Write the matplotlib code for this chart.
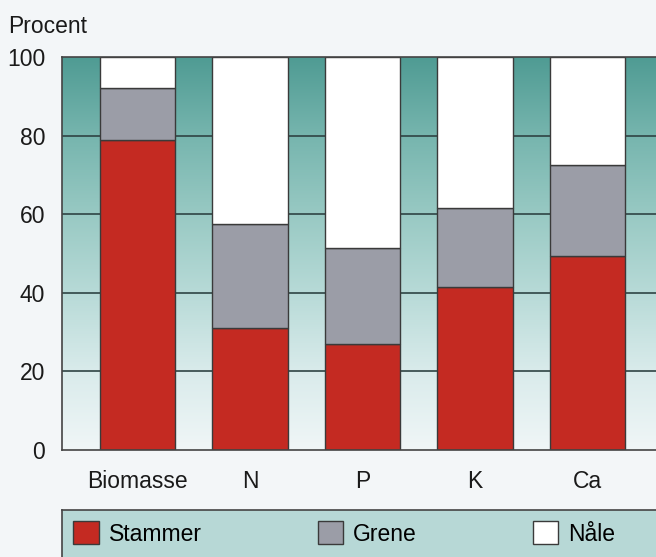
import numpy as np
import matplotlib.pyplot as plt
from matplotlib.colors import LinearSegmentedColormap

plt.rcParams['font.family'] = ['Liberation Sans', 'DejaVu Sans']

# data (percent of total)
categories = ["Biomasse", "N", "P", "K", "Ca"]
stammer = [79, 31, 27, 41.5, 49.5]
grene = [13, 26.5, 24.5, 20, 23]
naale = [8, 42.5, 48.5, 38.5, 27.5]
yticks = [0, 20, 40, 60, 80, 100]

fig = plt.figure(figsize=(6.56, 5.57), dpi=100)
fig.patch.set_facecolor("#f3f6f8")

ax = fig.add_axes([0.0945, 0.192, 0.9055, 0.7056])
x = np.arange(len(categories))
xlim = (-0.671, 4.609)

# teal gradient background
bg = LinearSegmentedColormap.from_list(
    "bg", ["#f0f6f7", "#d9ebeb", "#b7dad7", "#98c9c3", "#76b5ae", "#4f9b93"])
grad = np.linspace(0, 1, 256).reshape(-1, 1)
ax.imshow(grad, cmap=bg, origin="lower", aspect="auto",
          extent=[xlim[0], xlim[1], 0, 100], zorder=0)

for y in [20, 40, 60, 80]:
    ax.axhline(y, color="#2f4444", lw=1.2, zorder=1)

w = 0.667
edge = dict(edgecolor="#3a3a3a", linewidth=1.0, zorder=2)
b1 = ax.bar(x, stammer, w, color="#c42a22", label="Stammer", **edge)
b2 = ax.bar(x, grene, w, bottom=stammer, color="#9b9da7", label="Grene", **edge)
b3 = ax.bar(x, naale, w, bottom=np.add(stammer, grene), color="white",
            label="Nåle", **edge)

ax.set_xlim(*xlim)
ax.set_ylim(0, 100)
ax.set_yticks(yticks)
ax.set_xticks(x)
ax.set_xticklabels(categories)
ax.tick_params(axis="both", length=0, labelsize=16.5, colors="#1a1a1a")
ax.tick_params(axis="y", pad=12)
ax.tick_params(axis="x", pad=14)
for s in ["left", "top", "bottom"]:
    ax.spines[s].set_color("#444444")
    ax.spines[s].set_linewidth(1.2)
ax.spines["right"].set_visible(False)

fig.text(0.012, 0.952, "Procent", fontsize=16.5, color="#1a1a1a", va="center")

# legend strip
lax = fig.add_axes([0.0945, 0.0, 0.9055, 0.0844])
lax.set_facecolor("#b7d8d6")
lax.set_xticks([])
lax.set_yticks([])
for s in ["right", "bottom"]:
    lax.spines[s].set_visible(False)
for s in ["left", "top"]:
    lax.spines[s].set_color("#444444")
    lax.spines[s].set_linewidth(1.2)
lax.legend(handles=[b1, b2, b3], loc="center left", bbox_to_anchor=(0.0, 0.5),
           ncol=3, frameon=False, fontsize=16.5, handlelength=1.1,
           handleheight=1.15, handletextpad=0.45, columnspacing=5.05,
           borderaxespad=0.1)

fig.savefig("out.png", dpi=100, facecolor=fig.get_facecolor())
